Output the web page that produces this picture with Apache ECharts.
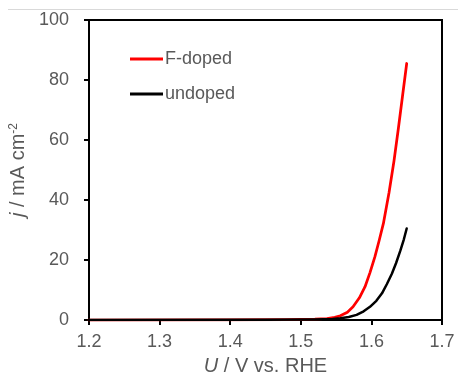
<!DOCTYPE html>
<html>
<head>
<meta charset="utf-8">
<script src="https://cdn.jsdelivr.net/npm/echarts@6/dist/echarts.min.js"></script>
<style>
  html, body { margin: 0; padding: 0; background: #fff; }
  #chart { width: 458px; height: 381px; }
</style>
</head>
<body>
<div id="chart"></div>
<script>
// potential (V vs. RHE) and current density (mA cm-2)
const uFdoped = [1.20, 1.40, 1.48, 1.52, 1.537, 1.548, 1.556, 1.566, 1.574, 1.583, 1.591, 1.598, 1.605, 1.611, 1.617, 1.625, 1.632, 1.638, 1.644, 1.650]
const jFdoped = [0, 0.05, 0.15, 0.3, 0.5, 0.9, 1.4, 2.6, 4.4, 7.4, 11.1, 15.8, 21.1, 26.5, 32.2, 42.5, 53, 63.5, 74.5, 85.5]
const uUndoped = [1.20, 1.45, 1.52, 1.545, 1.556, 1.568, 1.579, 1.589, 1.598, 1.607, 1.615, 1.622, 1.629, 1.635, 1.641, 1.646, 1.650]
const jUndoped = [0, 0.05, 0.2, 0.35, 0.55, 1.0, 1.7, 2.9, 4.4, 6.4, 8.9, 12.0, 15.4, 19.0, 23.1, 26.9, 30.5]
const xTicks = { min: 1.2, max: 1.7, step: 0.1 }
const yTicks = { min: 0, max: 100, step: 20 }

const textColor = '#595959'
const font = 'Liberation Sans, Arial, sans-serif'

const zip = (xs, ys) => xs.map((x, i) => [x, ys[i]])

const chart = echarts.init(document.getElementById('chart'), null, { renderer: 'canvas' })

chart.setOption({
  animation: false,
  backgroundColor: '#fff',
  textStyle: { fontFamily: font },
  grid: {
    left: 89,
    right: 16,
    top: 20,
    bottom: 61,
    show: true,
    borderColor: '#000',
    borderWidth: 2,
    backgroundColor: 'transparent',
  },
  graphic: [{
    type: 'line',
    shape: { x1: 8, y1: 9.5, x2: 458, y2: 9.5 },
    style: { stroke: '#d9d9d9', lineWidth: 1 },
    silent: true,
  }],
  legend: {
    orient: 'vertical',
    left: 130,
    top: 50,
    padding: 0,
    itemWidth: 33,
    itemHeight: 3,
    itemGap: 17,
    icon: 'rect',
    textStyle: { color: textColor, fontSize: 18, lineHeight: 18, fontFamily: font, padding: [0, 0, 0, -3] },
    data: ['F-doped', 'undoped'],
  },
  xAxis: {
    type: 'value',
    min: xTicks.min,
    max: xTicks.max,
    interval: xTicks.step,
    name: '{i|U} / V vs. RHE',
    nameLocation: 'middle',
    nameGap: 36,
    nameTextStyle: {
      color: textColor,
      fontSize: 20,
      fontFamily: font,
      rich: { i: { fontStyle: 'italic', fontSize: 20, color: textColor, fontFamily: font } },
    },
    axisLine: { lineStyle: { color: '#000', width: 2 } },
    axisTick: { show: true, inside: false, length: 5, lineStyle: { color: '#000', width: 2 } },
    axisLabel: {
      color: textColor,
      fontSize: 18,
      margin: 13,
      formatter: (v) => v.toFixed(1),
    },
    splitLine: { show: false },
  },
  yAxis: {
    type: 'value',
    min: yTicks.min,
    max: yTicks.max,
    interval: yTicks.step,
    name: '{i|j} / mA cm{sup|-2}',
    nameLocation: 'middle',
    nameGap: 51,
    nameTextStyle: {
      color: textColor,
      fontSize: 20,
      fontFamily: font,
      rich: {
        i: { fontStyle: 'italic', fontSize: 20, color: textColor, fontFamily: font },
        sup: { fontSize: 12, color: textColor, fontFamily: font, verticalAlign: 'top', padding: [0, 0, 8, 0] },
      },
    },
    axisLine: { show: true, lineStyle: { color: '#000', width: 2 } },
    axisTick: { show: true, inside: false, length: 5, lineStyle: { color: '#000', width: 2 } },
    axisLabel: { color: textColor, fontSize: 18, margin: 20 },
    splitLine: { show: false },
  },
  series: [
    {
      name: 'F-doped',
      type: 'line',
      data: zip(uFdoped, jFdoped),
      smooth: false,
      symbol: 'none',
      z: 3,
      itemStyle: { color: '#ff0000' },
      lineStyle: { color: '#ff0000', width: 2.75, join: 'round', cap: 'round' },
    },
    {
      name: 'undoped',
      type: 'line',
      data: zip(uUndoped, jUndoped),
      smooth: false,
      symbol: 'none',
      z: 4,
      itemStyle: { color: '#000000' },
      lineStyle: { color: '#000000', width: 2.5, join: 'round', cap: 'round' },
    },
  ],
})
</script>
</body>
</html>
